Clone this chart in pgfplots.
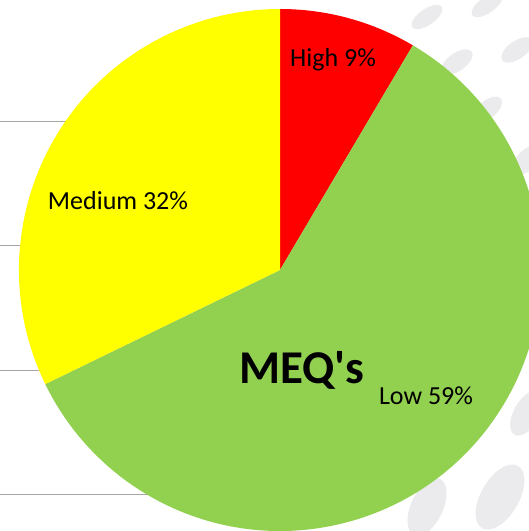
\documentclass[border=0pt]{standalone}
\usepackage{pgfplots}
\pgfplotsset{compat=1.18}
\usepackage{fontspec}
\setmainfont{Carlito}
\usetikzlibrary{shapes.geometric}
\definecolor{pieRed}{HTML}{FF0000}
\definecolor{pieGreen}{HTML}{92D050}
\definecolor{pieYellow}{HTML}{FFFF00}
\definecolor{gridGray}{HTML}{A6A6A6}
\definecolor{blob}{HTML}{EBEBED}
\begin{document}
\begin{tikzpicture}
\path[use as bounding box] (0,0) rectangle (529pt,531pt);
\begin{axis}[
  at={(0,0)}, anchor=origin,
  x=1pt, y=1pt, xmin=0, xmax=529, ymin=0, ymax=531,
  axis lines=none, ticks=none, clip=true,
]
% background decoration
\foreach \bx/\by/\bw/\bh/\br in {427/514/36/16/35, 487/526/36/16/35, 517/481/36/18/35, 457/469/36/18/35, 487/421/36/18/40, 527/371/36/20/45, 527/118/50/26/60, 500/34/72/38/60, 427/24/62/32/65}{
  \edef\temp{\noexpand\node[ellipse, fill=blob, inner sep=0pt, minimum width=\bw pt, minimum height=\bh pt, rotate=\br] at (axis cs:\bx,\by) {};}
  \temp
}
% grid lines of the slide behind the pie
\addplot[gridGray, line width=1pt] coordinates {(0,409) (220,409)};
\addplot[gridGray, line width=1pt] coordinates {(0,285) (220,285)};
\addplot[gridGray, line width=1pt] coordinates {(0,160) (220,160)};
\addplot[gridGray, line width=1pt] coordinates {(0,36) (250,36)};
% pie: High, Low, Medium (clockwise from top), in percent
\foreach \v/\c [remember=\e as \s (initially 90)] in {8.5/pieRed, 59.3/pieGreen, 32.2/pieYellow}{
  \pgfmathsetmacro{\e}{\s-3.6*\v}
  \edef\temp{\noexpand\fill[\c] (axis cs:280,261) -- ++(\s:261pt) arc[start angle=\s, end angle=\e, radius=261pt] -- cycle;}
  \temp
}
\node[anchor=base, font=\fontsize{26}{30}\selectfont] at (axis cs:333,464) {High 9\%};
\node[anchor=base, font=\fontsize{26}{30}\selectfont] at (axis cs:118,321) {Medium 32\%};
\node[anchor=base, font=\fontsize{26}{30}\selectfont] at (axis cs:426,126) {Low 59\%};
\node[anchor=base, font=\fontsize{47}{52}\selectfont\bfseries] at (axis cs:302,147) {MEQ\textquotesingle s};
\end{axis}
\end{tikzpicture}
\end{document}
